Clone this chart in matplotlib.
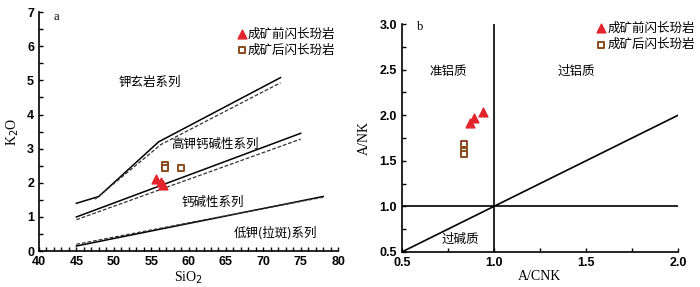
import numpy as np
import matplotlib
matplotlib.use("Agg")
import matplotlib.pyplot as plt
from matplotlib.ticker import MultipleLocator

plt.rcParams['font.family'] = ['Noto Sans CJK SC', 'DejaVu Sans']

# ---- panel a: SiO2 - K2O ----
sh_solid_x = [45, 48, 56, 72.3]
sh_solid_y = [1.4, 1.6, 3.2, 5.08]
sh_dash_x = [47.5, 56.3, 72.3]
sh_dash_y = [1.52, 3.12, 4.93]
hk_solid_x = [45, 75]
hk_solid_y = [1.0, 3.45]
hk_dash_x = [45, 75]
hk_dash_y = [0.92, 3.28]
ca_solid_x = [45, 78]
ca_solid_y = [0.15, 1.6]
ca_dash_x = [45, 78]
ca_dash_y = [0.2, 1.58]

pre_sio2 = [55.6, 56.3, 56.6]
pre_k2o = [2.1, 2.02, 1.95]
post_sio2 = [56.8, 56.8, 59.0]
post_k2o = [2.52, 2.42, 2.43]

# ---- panel b: A/CNK - A/NK ----
pre_acnk = [0.94, 0.89, 0.87]
pre_ank = [2.04, 1.97, 1.92]
post_acnk = [0.84, 0.84, 0.84]
post_ank = [1.69, 1.61, 1.58]

pre_label = "成矿前闪长玢岩"
post_label = "成矿后闪长玢岩"
red = "#e3242b"
brown = "#8a4a1c"
serif = "Liberation Serif"

fig = plt.figure(figsize=(7, 2.87), dpi=100)
ax1 = fig.add_axes([0.0557, 0.125, 0.4273, 0.833])
ax2 = fig.add_axes([0.574, 0.122, 0.3946, 0.794])

for ax in (ax1, ax2):
    for s in ("top", "right"):
        ax.spines[s].set_visible(False)
    ax.spines["left"].set_linewidth(1.2)
    ax.spines["bottom"].set_linewidth(1.2)
    ax.tick_params(which="both", direction="in", length=3, width=1,
                   labelsize=9)

# panel a
ax1.plot(sh_solid_x, sh_solid_y, color="black", lw=1.1)
ax1.plot(sh_dash_x, sh_dash_y, color="#333333", lw=0.9, ls=(0, (3, 1.5)))
ax1.plot(hk_solid_x, hk_solid_y, color="black", lw=1.1)
ax1.plot(hk_dash_x, hk_dash_y, color="#333333", lw=0.9, ls=(0, (3, 1.5)))
ax1.plot(ca_solid_x, ca_solid_y, color="black", lw=1.1)
ax1.plot(ca_dash_x, ca_dash_y, color="#333333", lw=0.9, ls=(0, (3, 1.5)))
ax1.scatter(pre_sio2, pre_k2o, marker="^", s=40, color=red, zorder=3,
            label=pre_label)
ax1.scatter(post_sio2, post_k2o, marker="s", s=25, facecolor="white",
            edgecolor=brown, linewidth=1.4, zorder=3, label=post_label)
ax1.set_xlim(40, 80)
ax1.set_ylim(0, 7)
ax1.xaxis.set_major_locator(MultipleLocator(5))
ax1.xaxis.set_minor_locator(MultipleLocator(1))
ax1.yaxis.set_major_locator(MultipleLocator(1))
ax1.yaxis.set_minor_locator(MultipleLocator(0.5))
ax1.set_xlabel("SiO$_2$", fontfamily=serif, fontsize=10, labelpad=1)
ax1.set_ylabel("K$_2$O", fontfamily=serif, fontsize=10, labelpad=4)
ax1.text(41.9, 6.85, "a", fontfamily=serif, fontsize=9, va="center")
tfs = 9
ax1.text(54.8, 4.95, "钾玄岩系列", fontsize=tfs, ha="center", va="center")
ax1.text(63.5, 3.13, "高钾钙碱性系列", fontsize=tfs, ha="center", va="center")
ax1.text(63.3, 1.44, "钙碱性系列", fontsize=tfs, ha="center", va="center")
ax1.text(71.6, 0.55, "低钾(拉斑)系列", fontsize=tfs, ha="center", va="center")
ax1.legend(loc="upper left", bbox_to_anchor=(0.64, 0.962), frameon=False,
           fontsize=tfs, handletextpad=0.1, borderpad=0, labelspacing=0.25,
           handlelength=0.8)

# panel b
ax2.plot([1.0, 1.0], [0.5, 3.0], color="black", lw=1.2)
ax2.plot([0.5, 2.0], [1.0, 1.0], color="black", lw=1.2)
ax2.plot([0.5, 2.0], [0.5, 2.0], color="black", lw=1.2)
ax2.scatter(pre_acnk, pre_ank, marker="^", s=40, color=red, zorder=3,
            label=pre_label)
ax2.scatter(post_acnk, post_ank, marker="s", s=25, facecolor="white",
            edgecolor=brown, linewidth=1.4, zorder=3, label=post_label)
ax2.set_xlim(0.5, 2.0)
ax2.set_ylim(0.5, 3.0)
ax2.xaxis.set_major_locator(MultipleLocator(0.5))
ax2.xaxis.set_minor_locator(MultipleLocator(0.25))
ax2.yaxis.set_major_locator(MultipleLocator(0.5))
ax2.yaxis.set_minor_locator(MultipleLocator(0.25))
ax2.xaxis.set_major_formatter(plt.FormatStrFormatter("%.1f"))
ax2.yaxis.set_major_formatter(plt.FormatStrFormatter("%.1f"))
ax2.set_xlabel("A/CNK", fontfamily=serif, fontsize=10, labelpad=1)
ax2.set_ylabel("A/NK", fontfamily=serif, fontsize=10, labelpad=6)
ax2.text(0.58, 2.97, "b", fontfamily=serif, fontsize=9, va="center")
ax2.text(0.75, 2.48, "准铝质", fontsize=tfs, ha="center", va="center")
ax2.text(1.45, 2.48, "过铝质", fontsize=tfs, ha="center", va="center")
ax2.text(0.817, 0.64, "过碱质", fontsize=tfs, ha="center", va="center")
ax2.legend(loc="upper left", bbox_to_anchor=(0.68, 1.038), frameon=False,
           fontsize=tfs, handletextpad=0.1, borderpad=0, labelspacing=0.25,
           handlelength=0.8)

for ax in (ax1, ax2):
    for lab in ax.get_xticklabels() + ax.get_yticklabels():
        lab.set_fontweight("bold")
        lab.set_fontfamily("Liberation Sans")

fig.savefig("out.png", dpi=100)
